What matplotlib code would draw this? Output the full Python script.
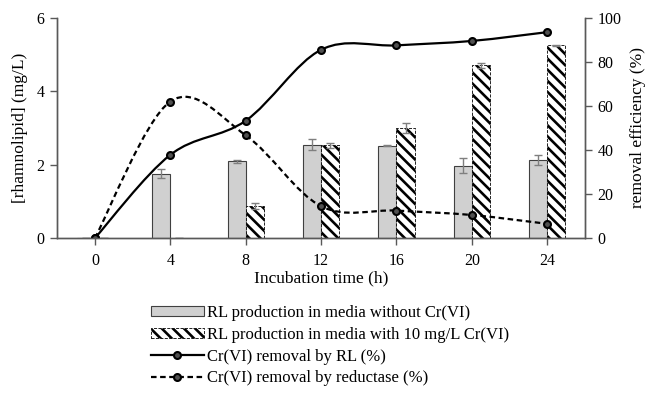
import matplotlib.pyplot as plt
import numpy as np
from matplotlib.lines import Line2D
from matplotlib.patches import Patch, PathPatch
from matplotlib.path import Path

plt.rcParams["font.family"] = ["Liberation Serif", "DejaVu Serif"]
plt.rcParams["font.size"] = 11.5
plt.rcParams["hatch.linewidth"] = 1.9

hours = ["0", "4", "8", "12", "16", "20", "24"]

# rhamnolipid (mg/L)
rl_no_cr = [0, 1.76, 2.09, 2.55, 2.52, 1.97, 2.13]
rl_no_cr_err = [0, 0.12, 0.04, 0.15, 0.02, 0.20, 0.13]
rl_cr = [0, 0, 0.88, 2.53, 3.00, 4.71, 5.25]
rl_cr_err = [0, 0, 0.08, 0.07, 0.13, 0.07, 0.02]

# removal efficiency (%)
removal_rl = [0, 37.8, 53.3, 85.5, 87.5, 89.5, 93.5]
removal_reductase = [0, 62.0, 46.7, 14.5, 12.5, 10.5, 6.5]


def smooth_path(xs, ys):
    # excel-like smoothed line: cubic bezier through the points
    pts = np.column_stack([xs, ys]).astype(float)
    padded = np.vstack([pts[0], pts, pts[-1]])
    verts = [pts[0]]
    codes = [Path.MOVETO]
    for i in range(len(pts) - 1):
        p0, p1, p2, p3 = padded[i], padded[i + 1], padded[i + 2], padded[i + 3]
        verts += [p1 + (p2 - p0) / 6, p2 - (p3 - p1) / 6, p2]
        codes += [Path.CURVE4] * 3
    return Path(verts, codes)


fig = plt.figure(figsize=(6.5, 4.05), dpi=100)
ax = fig.add_axes([0.088, 0.412, 0.812, 0.544])
ax2 = ax.twinx()

x = np.arange(len(hours))
w = 0.24
err_kw = dict(ecolor="#7f7f7f", elinewidth=1, capsize=3, capthick=1)
ax.bar(x - w / 2, rl_no_cr, w, color="#d0d0d0", edgecolor="#404040", linewidth=0.8,
       yerr=rl_no_cr_err, error_kw=err_kw)
ax.bar(x + w / 2, rl_cr, w, color="white", edgecolor="black", hatch="\\\\\\", linewidth=0.6,
       linestyle="--", yerr=rl_cr_err, error_kw=err_kw)

dash = (0, (2.5, 1.6))
ax2.add_patch(PathPatch(smooth_path(x, removal_rl), fill=False, edgecolor="black", linewidth=1.6))
ax2.add_patch(PathPatch(smooth_path(x, removal_reductase), fill=False, edgecolor="black",
                        linewidth=1.6, linestyle=dash))
marker_kw = dict(marker="o", markersize=5, markerfacecolor="#505050", markeredgecolor="black",
                 markeredgewidth=1.5)
ax2.plot(x, removal_rl, linestyle="none", **marker_kw)
ax2.plot(x, removal_reductase, linestyle="none", **marker_kw)

ax.set_xlim(-0.5, 6.5)
ax.set_ylim(0, 6)
ax2.set_ylim(0, 100)
ax.set_xticks(x)
ax.set_xticklabels(hours)
ax.set_yticks([0, 2, 4, 6])
ax2.set_yticks([0, 20, 40, 60, 80, 100])

for a in (ax, ax2):
    a.spines["top"].set_visible(False)
    for s in ("left", "right", "bottom"):
        a.spines[s].set_color("#595959")
        a.spines[s].set_linewidth(1.0)
    a.tick_params(colors="#595959", labelcolor="black", length=5, width=1, labelsize=11.5)
ax.tick_params(axis="x", pad=6)
ax.tick_params(axis="y", pad=4)
ax2.tick_params(axis="y", pad=4)

ax.set_xlabel("Incubation time (h)", fontsize=12.5, labelpad=1)
ax.set_ylabel("[rhamnolipid] (mg/L)", fontsize=12.5, labelpad=6)
ax2.set_ylabel("removal efficiency (%)", fontsize=12.5, labelpad=6)

handles = [
    Patch(facecolor="#d0d0d0", edgecolor="#404040", linewidth=0.8),
    Patch(facecolor="white", edgecolor="black", hatch="\\\\\\", linewidth=0.6, linestyle="--"),
    Line2D([], [], color="black", linewidth=1.6, **marker_kw),
    Line2D([], [], color="black", linewidth=1.6, linestyle=dash, **marker_kw),
]
labels = [
    "RL production in media without Cr(VI)",
    "RL production in media with 10 mg/L Cr(VI)",
    "Cr(VI) removal by RL (%)",
    "Cr(VI) removal by reductase (%)",
]
fig.legend(handles, labels, loc="upper left", bbox_to_anchor=(0.232, 0.247), frameon=False,
           fontsize=12, handlelength=3.2, handleheight=0.5, handletextpad=0.15,
           labelspacing=0.35, borderaxespad=0, borderpad=0)

fig.savefig("out.png", dpi=100)
